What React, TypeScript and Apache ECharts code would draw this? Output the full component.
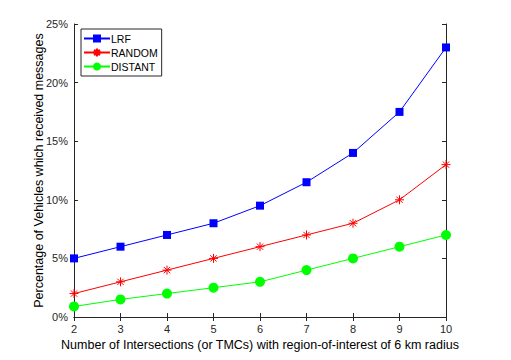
import React, { useEffect, useRef } from "react";
import * as echarts from "echarts";

const xValues = [2, 3, 4, 5, 6, 7, 8, 9, 10];
const lrf = [5, 6, 7, 8, 9.5, 11.5, 14, 17.5, 23];
const random = [2, 3, 4, 5, 6, 7, 8, 10, 13];
const distant = [0.9, 1.5, 2, 2.5, 3, 4, 5, 6, 7];
const seriesNames = ["LRF", "RANDOM", "DISTANT"];

const AXIS = "#262626";
const FONT = "Liberation Sans";
const ASTERISK = "path://M10,0L10,20M0,10L20,10M3,3L17,17M3,17L17,3";

export default function App() {
  const ref = useRef<HTMLDivElement>(null);
  useEffect(() => {
    if (!ref.current) return;
    const chart = echarts.init(ref.current, undefined, { renderer: "svg" });
    const pair = (arr: number[]) => xValues.map((x, i) => [x, arr[i]]);
    const tickCommon = { show: true, inside: true, length: 4, lineStyle: { color: AXIS } };
    chart.setOption({
      animation: false,
      backgroundColor: "#ffffff",
      textStyle: { fontFamily: FONT },
      grid: { left: 74, right: 65, top: 24, bottom: 43 },
      legend: {
        left: 81,
        top: 29,
        orient: "vertical",
        itemWidth: 26,
        itemHeight: 10,
        itemGap: 3,
        padding: [4, 4, 4, 2],
        borderColor: AXIS,
        borderWidth: 1,
        backgroundColor: "#ffffff",
        textStyle: { fontFamily: FONT, fontSize: 10.5, color: "#000", padding: [0, 0, 0, -4] },
        data: seriesNames,
      },
      xAxis: [
        {
          type: "value",
          min: 2,
          max: 10,
          interval: 1,
          position: "bottom",
          name: "Number of Intersections (or TMCs) with region-of-interest of 6 km radius",
          nameLocation: "middle",
          nameGap: 21,
          nameMoveOverlap: false,
          nameTextStyle: { fontFamily: FONT, fontSize: 12.5, color: "#000" },
          axisLine: { show: true, lineStyle: { color: AXIS } },
          axisTick: tickCommon,
          axisLabel: { fontFamily: FONT, fontSize: 11, color: AXIS, margin: 6 },
          splitLine: { show: false },
        },
        {
          type: "value",
          min: 2,
          max: 10,
          interval: 1,
          position: "top",
          axisLine: { show: true, lineStyle: { color: AXIS } },
          axisTick: tickCommon,
          axisLabel: { show: false },
          splitLine: { show: false },
        },
      ],
      yAxis: [
        {
          type: "value",
          min: 0,
          max: 25,
          interval: 5,
          position: "left",
          name: "Percentage of Vehicles which received messages",
          nameLocation: "middle",
          nameGap: 29,
          nameMoveOverlap: false,
          nameTextStyle: { fontFamily: FONT, fontSize: 12.5, color: "#000" },
          axisLine: { show: true, lineStyle: { color: AXIS } },
          axisTick: tickCommon,
          axisLabel: { fontFamily: FONT, fontSize: 11, color: AXIS, margin: 6, formatter: "{value}%" },
          splitLine: { show: false },
        },
        {
          type: "value",
          min: 0,
          max: 25,
          interval: 5,
          position: "right",
          axisLine: { show: true, lineStyle: { color: AXIS } },
          axisTick: tickCommon,
          axisLabel: { show: false },
          splitLine: { show: false },
        },
      ],
      series: [
        {
          name: seriesNames[0],
          type: "line",
          data: pair(lrf),
          symbol: "rect",
          symbolSize: 8,
          lineStyle: { color: "#0000ff", width: 1 },
          itemStyle: { color: "#0000ff" },
        },
        {
          name: seriesNames[1],
          type: "line",
          data: pair(random),
          symbol: ASTERISK,
          symbolSize: 9,
          lineStyle: { color: "#ff0000", width: 1 },
          itemStyle: { color: "transparent", borderColor: "#ff0000", borderWidth: 1 },
        },
        {
          name: seriesNames[2],
          type: "line",
          data: pair(distant),
          symbol: "circle",
          symbolSize: 10,
          lineStyle: { color: "#00ff00", width: 1 },
          itemStyle: { color: "#00ff00" },
        },
      ],
    });
    return () => chart.dispose();
  }, []);
  return <div ref={ref} style={{ width: 511, height: 360, position: "absolute", left: 0, top: 0 }} />;
}
